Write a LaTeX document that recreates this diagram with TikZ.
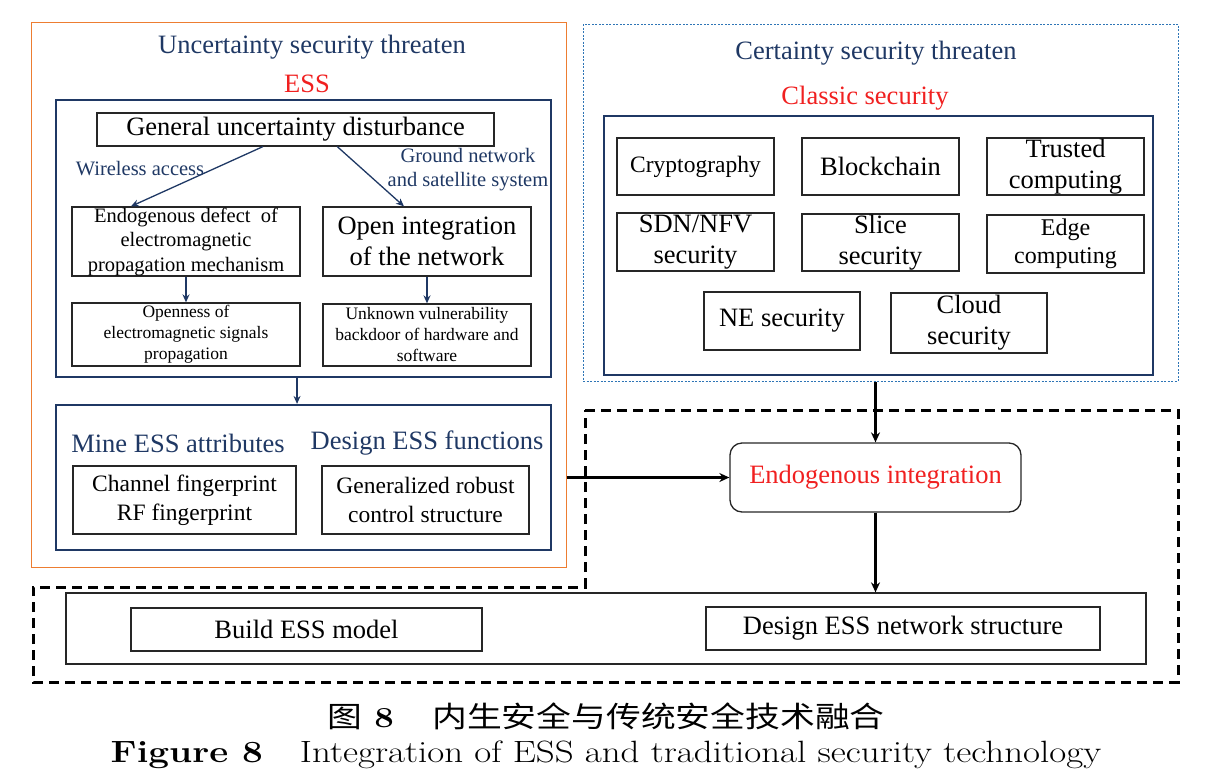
\documentclass[tikz,border=0pt]{standalone}
\usepackage{fontspec}
\usepackage{graphicx}
\newfontfamily\tnr{Liberation Serif}
\newfontfamily\cjk{Noto Sans CJK SC}
\usetikzlibrary{arrows.meta,calc}
\definecolor{navy}{HTML}{1F3864}
\definecolor{essred}{HTML}{F02020}
\definecolor{orng}{HTML}{ED7D31}
\definecolor{dotblue}{HTML}{2E75B6}
\tikzset{
  bx/.style={draw=black!85, line width=1.3pt, inner sep=0pt, align=center, text=black},
  nb/.style={draw=navy, line width=2.2pt, inner sep=0pt},
  wh/.style 2 args={minimum width=#1pt, minimum height=#2pt},
  tA/.style={font=\tnr\fontsize{26.5}{31}\selectfont},
  tB/.style={font=\tnr\fontsize{23.5}{29}\selectfont},
  tE/.style={font=\tnr\fontsize{24}{28}\selectfont},
  tC/.style={font=\tnr\fontsize{20.5}{24.5}\selectfont},
  tD/.style={font=\tnr\fontsize{17.5}{21}\selectfont},
  lbl/.style={inner sep=0pt, align=center},
  narr/.style={draw=navy, line width=1.3pt, -{Stealth[length=8pt,width=7pt]}},
  barr/.style={draw=black, line width=2.6pt, -{Stealth[length=10pt,width=9pt]}},
}
\begin{document}
\begin{tikzpicture}[x=1pt,y=-1pt]
\useasboundingbox (0,0) rectangle (1211,780);
% outer frames
\node[draw=orng, line width=1pt, wh={535}{545}, inner sep=0pt] (outer) at (298.5,294.5) {};
\node[draw=dotblue, line width=1pt, dash pattern=on 2pt off 1.5pt, wh={595}{357}, inner sep=0pt] (blue) at (880.5,202.5) {};
\draw[black, line width=3pt, dash pattern=on 10pt off 6pt]
  (585,410) -- (1178,410) -- (1178,682) -- (33,682) -- (33,587) -- (585,587) -- cycle;

% left headings
\node[lbl, tA, text=navy] (uth) at (312,47) {Uncertainty security threaten};
\node[lbl, tA, text=essred] (ess) at (307,84) {ESS};
\node[nb, wh={495}{277}] (essbox) at (303.5,238.5) {};
\node[bx, tA, wh={397}{33}] (gud) at (295.5,129.5) {General uncertainty disturbance};
\node[lbl, tC, text=navy] (wl) at (140,169) {Wireless access};
\node[lbl, tC, text=navy] (gn) at (468,169.5) {Ground network\\ and satellite system};
\node[bx, tC, wh={228}{69}] (endo) at (186,241.5) {Endogenous defect\ \ of\\ electromagnetic\\ propagation mechanism};
\node[bx, tA, wh={208}{69}] (openint) at (427,241.5) {Open integration\\ of the network};
\node[bx, tD, wh={228}{63}] (openness) at (186,334.5) {Openness of\\ electromagnetic signals\\ propagation};
\node[bx, tD, wh={208}{62}] (unknown) at (427,335) {Unknown vulnerability\\ backdoor of hardware and\\ software};
\draw[narr] ($(gud.south west)!0.418!(gud.south east)$) -- ($(endo.north west)!0.26!(endo.north east)$);
\draw[narr] ($(gud.south west)!0.605!(gud.south east)$) -- ($(openint.north west)!0.39!(openint.north east)$);
\draw[narr] (endo.south) -- (openness.north);
\draw[narr] (openint.south) -- (unknown.north);

\node[nb, wh={495}{145}] (essbox2) at (303.5,477.5) {};
\draw[narr] ($(essbox.south west)!0.487!(essbox.south east)$) -- ($(essbox2.north west)!0.487!(essbox2.north east)$);
\node[lbl, tA, text=navy] (mine) at (178,443) {Mine ESS attributes};
\node[lbl, tA, text=navy] (desf) at (427,443) {Design ESS functions};
\node[bx, tB, wh={223}{68}] (chan) at (184.5,500) {Channel fingerprint\\ RF fingerprint};
\node[bx, tB, wh={207}{68}] (gen) at (425.5,500) {Generalized robust\\ control structure};

% right side
\node[lbl, tA, text=navy] (cth) at (876,53) {Certainty security threaten};
\node[lbl, tA, text=essred] (cls) at (865,98) {Classic security};
\node[nb, wh={549}{259}] (classic) at (878.5,245.5) {};
\node[bx, tB, wh={157}{57}] (crypto) at (695.5,166.5) {Cryptography};
\node[bx, tA, wh={157}{57}] (block) at (880.5,166.5) {Blockchain};
\node[bx, tA, wh={157}{57}] (trust) at (1065.5,166.5) {Trusted\\ computing};
\node[bx, tA, wh={157}{58}] (sdn) at (695.5,242) {SDN/NFV\\ security};
\node[bx, tA, wh={157}{57}] (slice) at (880.5,242.5) {Slice\\ security};
\node[bx, tE, wh={157}{58}] (edge) at (1065.5,244) {Edge\\ computing};
\node[bx, tA, wh={156}{58}] (ne) at (782,321) {NE security};
\node[bx, tA, wh={156}{60}] (cloud) at (969,323) {Cloud\\ security};

\node[bx, tA, text=essred, wh={291}{69}, rounded corners=12pt] (endoint) at (875.5,477.5) {Endogenous integration};
\draw[barr] (blue.south -| endoint.north) -- (endoint.north);
\draw[barr] (outer.east |- endoint.west) -- (endoint.west);

\node[bx, wh={1080}{71}] (bottom) at (606,628.5) {};
\draw[barr] (endoint.south) -- (endoint.south |- bottom.north);
\node[bx, tA, wh={351}{43}] (build) at (306.5,629.5) {Build ESS model};
\node[bx, tA, wh={394}{43}] (designnet) at (903,628.5) {Design ESS network structure};

% caption
\node[lbl, font=\fontsize{29}{34}\selectfont] (cap1) at (606,716) {\scalebox{1.2}[1]{{\cjk 图}\hspace{0.35em}{\bfseries 8}\hspace{1.1em}{\cjk 内生安全与传统安全技术融合}}};
\node[lbl, font=\fontsize{30.8}{36}\selectfont] (cap2) at (606,755) {\scalebox{1.2}[1]{{\bfseries Figure 8}\hspace{1em}Integration of ESS and traditional security technology}};
\end{tikzpicture}
\end{document}
